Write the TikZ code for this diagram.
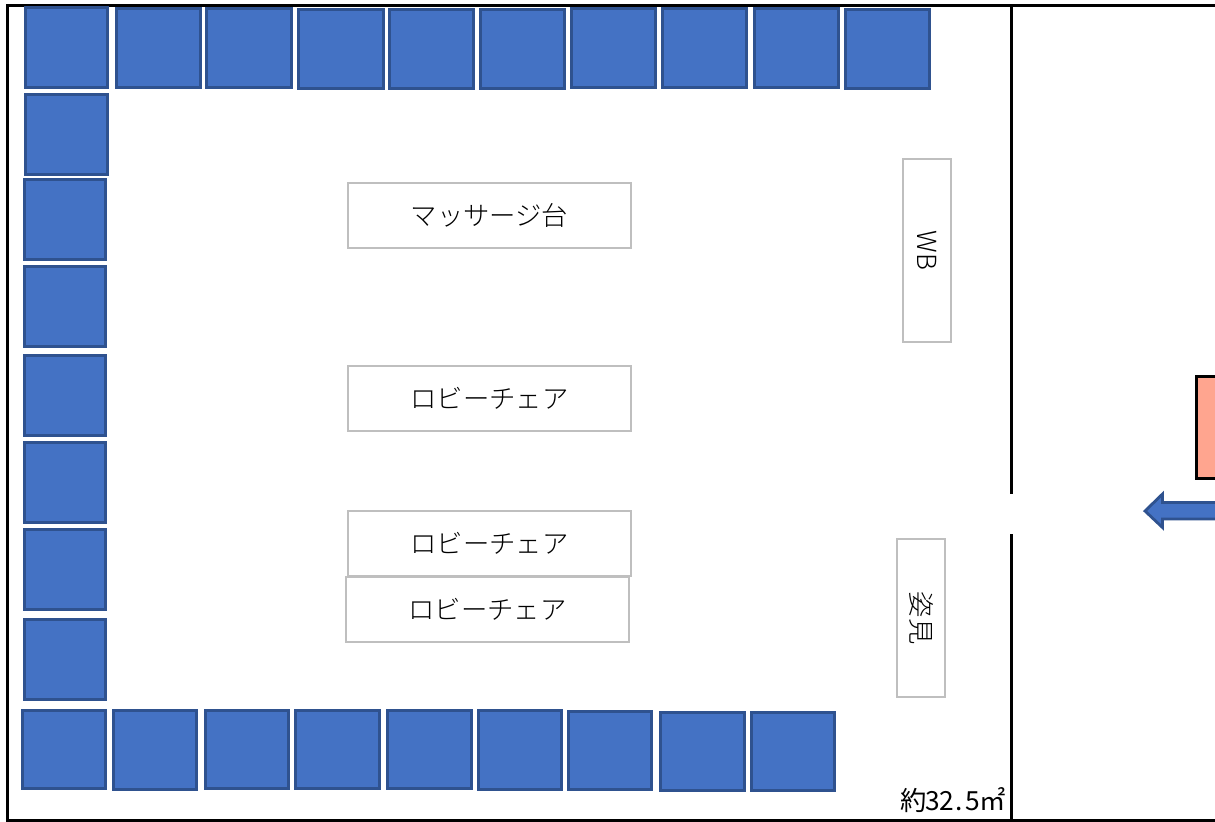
\documentclass[tikz,border=0pt]{standalone}
\usepackage{fontspec}
\usepackage{tikz}
\usepackage{xcolor}
\usetikzlibrary{arrows.meta, positioning, shapes, calc}
\newfontfamily\jpfont{Noto Sans CJK JP Light}
\newfontfamily\jpareafont{Noto Sans CJK JP}
\newcommand{\halfw}[1]{\makebox[0.265cm]{#1}}
\definecolor{seatblue}{HTML}{4472C4}
\definecolor{seatedge}{HTML}{2F528F}
\definecolor{boxedge}{HTML}{BFBFBF}
\definecolor{doorpink}{HTML}{FFA58F}

\begin{document}
\begin{tikzpicture}[
    x=0.02cm, y=-0.02cm,
    every node/.style={align=center},
    seat/.style={draw=seatedge, fill=seatblue, line width=1.6pt},
    wall/.style={draw=black, line width=2pt},
    furniture/.style={rectangle, draw=boxedge, fill=white, line width=1.2pt, inner sep=0pt, outer sep=0pt, minimum width=5.66cm, minimum height=1.3cm, font=\jpfont\fontsize{15}{18}\selectfont},
    standbox/.style={furniture, rotate=-90, minimum height=0.96cm},
    areatext/.style={inner sep=0pt, font=\jpareafont\fontsize{15}{18}\selectfont}
]
\useasboundingbox (0,0) rectangle (1215,822);

% walls
\draw[wall] (1215,5.5) -- (7.5,5.5) -- (7.5,820.5) -- (1215,820.5);
\draw[wall] (1011.5,5.5) -- (1011.5,494);
\draw[wall] (1011.5,534) -- (1011.5,820.5);

% top row
\foreach \l/\t/\r/\b in {25/7/108/88, 116/8/201/88, 206/8/292/88, 298/9/384/89, 389/9/474/89, 480/9/565/89, 571/8/656/88, 662/8/747/88, 754/8/839/88, 845/9/930/89}
    \draw[seat] (\l+.5,\t+.5) rectangle (\r-.5,\b-.5);

% left column
\foreach \l/\t/\r/\b in {25/94/108/175, 24/179/106/260, 24/266/106/347, 24/355/106/436, 24/442/106/523, 24/529/106/610, 24/619/106/700}
    \draw[seat] (\l+.5,\t+.5) rectangle (\r-.5,\b-.5);

% bottom row
\foreach \l/\t/\r/\b in {22/710/106/789, 113/710/197/790, 205/710/289/789, 295/710/380/789, 387/710/472/789, 478/710/562/790, 568/711/652/790, 660/712/745/791, 751/712/835/791}
    \draw[seat] (\l+.5,\t+.5) rectangle (\r-.5,\b-.5);

% furniture
\node[furniture] (massage) at (489.5,215.5) {マッサージ台};
\node[furniture] (lobbya) at (489.5,398.5) {ロビーチェア};
\node[furniture] (lobbyb) at (489.5,543.5) {ロビーチェア};
\node[furniture] (lobbyc) at (487.5,609.5) {ロビーチェア};
\node[standbox, minimum width=3.66cm] (wb) at (926.8,250.5) {WB};
\node[standbox, minimum width=3.16cm] (mirror) at (921,618) {姿見};

% area
\node[areatext] (area) at (953,800) {約\halfw{3}\halfw{2}\halfw{.}\halfw{5}㎡};

% door side
\fill[doorpink] (1197,377) rectangle (1215,478);
\draw[wall] (1215,376.5) -- (1196.5,376.5) -- (1196.5,478.5) -- (1215,478.5);
\draw[seat] (1215,502.5) -- (1162.5,502.5) -- (1162.5,494) -- (1145,511) -- (1162.5,527.5) -- (1162.5,519) -- (1215,519);

\end{tikzpicture}
\end{document}
